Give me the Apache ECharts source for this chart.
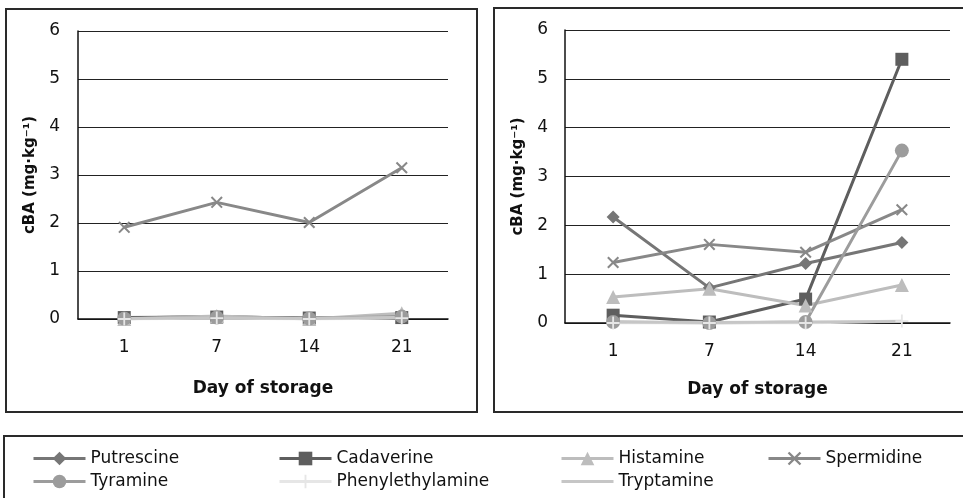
<!DOCTYPE html>
<html>
<head>
<meta charset="utf-8">
<script src="https://cdn.jsdelivr.net/npm/echarts@6/dist/echarts.min.js"></script>
<style>
html,body{margin:0;padding:0;background:#fff;}
#c{width:963px;height:498px;}
</style>
</head>
<body>
<div id="c"></div>
<script>
var days = ['1', '7', '14', '21'];
var yTicks = [0, 1, 2, 3, 4, 5, 6];
var names = ['Putrescine', 'Cadaverine', 'Histamine', 'Spermidine', 'Tyramine', 'Phenylethylamine', 'Tryptamine'];

// Left panel
var leftPutrescine = [0.02, 0.05, 0.01, 0.05];
var leftCadaverine = [0.03, 0.04, 0.02, 0.03];
var leftHistamine = [0.00, 0.06, 0.00, 0.12];
var leftSpermidine = [1.91, 2.43, 2.01, 3.15];
var leftTyramine = [0.01, 0.03, 0.01, 0.05];
var leftPhenylethylamine = [0.00, 0.02, 0.00, 0.02];
var leftTryptamine = [0.01, 0.02, 0.01, 0.03];

// Right panel
var rightPutrescine = [2.17, 0.72, 1.22, 1.65];
var rightCadaverine = [0.16, 0.02, 0.49, 5.40];
var rightHistamine = [0.53, 0.70, 0.36, 0.78];
var rightSpermidine = [1.24, 1.61, 1.45, 2.32];
var rightTyramine = [0.02, 0.00, 0.02, 3.53];
var rightPhenylethylamine = [0.00, 0.00, 0.00, 0.04];
var rightTryptamine = [0.02, 0.01, 0.02, 0.03];

var leftData = [leftPutrescine, leftCadaverine, leftHistamine, leftSpermidine, leftTyramine, leftPhenylethylamine, leftTryptamine];
var rightData = [rightPutrescine, rightCadaverine, rightHistamine, rightSpermidine, rightTyramine, rightPhenylethylamine, rightTryptamine];

var colors = ['#767676', '#5e5e5e', '#bdbdbd', '#888888', '#9c9c9c', '#e6e6e6', '#c6c6c6'];
var xPath = 'path://M0,1.2 L1.2,0 L5,3.8 L8.8,0 L10,1.2 L6.2,5 L10,8.8 L8.8,10 L5,6.2 L1.2,10 L0,8.8 L3.8,5 Z';
var plusPath = 'path://M4.3,0 H5.7 V4.3 H10 V5.7 H5.7 V10 H4.3 V5.7 H0 V4.3 H4.3 Z';
var symbols = ['diamond', 'rect', 'triangle', xPath, 'circle', plusPath, 'none'];
var symbolSizes = [13, 13, 14, 12, 14, 13, 0];

var font = '"DejaVu Sans", sans-serif';

function xAxis(gi, gap) {
  return {
    type: 'category', gridIndex: gi, data: days, boundaryGap: true,
    axisLine: { show: true, lineStyle: { color: '#111', width: 1.5 } },
    axisTick: { show: false },
    axisLabel: { color: '#111', fontSize: 17, fontFamily: font, margin: 20 },
    name: 'Day of storage', nameLocation: 'middle', nameGap: gap,
    nameTextStyle: { color: '#111', fontSize: 17, fontWeight: 'bold', fontFamily: font }
  };
}
function yAxis(gi, margin, gap) {
  return {
    type: 'value', gridIndex: gi, min: 0, max: 6, interval: 1,
    axisLine: { show: true, lineStyle: { color: '#111', width: 1.5 } },
    axisTick: { show: false },
    splitLine: { show: true, lineStyle: { color: '#222', width: 1 } },
    axisLabel: { color: '#111', fontSize: 17, fontFamily: font, margin: margin,
      formatter: function (v) { return yTicks.indexOf(v) >= 0 ? String(v) : ''; } },
    name: 'cBA (mg\u00B7kg\u207B\u00B9)', nameLocation: 'middle', nameGap: gap,
    nameTextStyle: { color: '#111', fontSize: 15, fontWeight: 'bold', fontFamily: font }
  };
}

var series = [];
[leftData, rightData].forEach(function (set, gi) {
  set.forEach(function (vals, i) {
    series.push({
      name: names[i], type: 'line', xAxisIndex: gi, yAxisIndex: gi,
      data: vals,
      symbol: symbols[i], symbolSize: symbolSizes[i], showSymbol: symbols[i] !== 'none',
      lineStyle: { color: colors[i], width: 3 },
      itemStyle: { color: colors[i] },
      animation: false
    });
  });
});

var legendPos = [
  [32, 450], [278, 450], [560, 450], [767, 450],
  [32, 473], [278, 473], [560, 473]
];
var legends = names.map(function (n, i) {
  var lg = {
    data: [n], left: legendPos[i][0], top: legendPos[i][1], padding: 0,
    itemWidth: 52, itemHeight: 17, itemGap: 5, selectedMode: false,
    lineStyle: { width: 3 },
    textStyle: { color: '#111', fontSize: 17, fontFamily: font }
  };
  if (symbols[i] === 'none') {
    lg.itemStyle = { opacity: 0 };
  }
  return lg;
});

var chart = echarts.init(document.getElementById('c'), null, { renderer: 'canvas' });
chart.setOption({
  backgroundColor: '#fff',
  animation: false,
  grid: [
    { left: 78, right: 515, top: 31, bottom: 179 },
    { left: 565, right: 13, top: 30, bottom: 175 }
  ],
  xAxis: [xAxis(0, 61), xAxis(1, 58)],
  yAxis: [yAxis(0, 18, 40), yAxis(1, 17, 39)],
  legend: legends,
  graphic: [
    { type: 'rect', shape: { x: 6, y: 9, width: 471, height: 403 }, style: { fill: 'none', stroke: '#2a2a2a', lineWidth: 2 }, silent: true },
    { type: 'rect', shape: { x: 494, y: 8, width: 480, height: 404 }, style: { fill: 'none', stroke: '#2a2a2a', lineWidth: 2 }, silent: true },
    { type: 'rect', shape: { x: 4, y: 436, width: 980, height: 80 }, style: { fill: 'none', stroke: '#2a2a2a', lineWidth: 2 }, silent: true }
  ],
  series: series
});
</script>
</body>
</html>
